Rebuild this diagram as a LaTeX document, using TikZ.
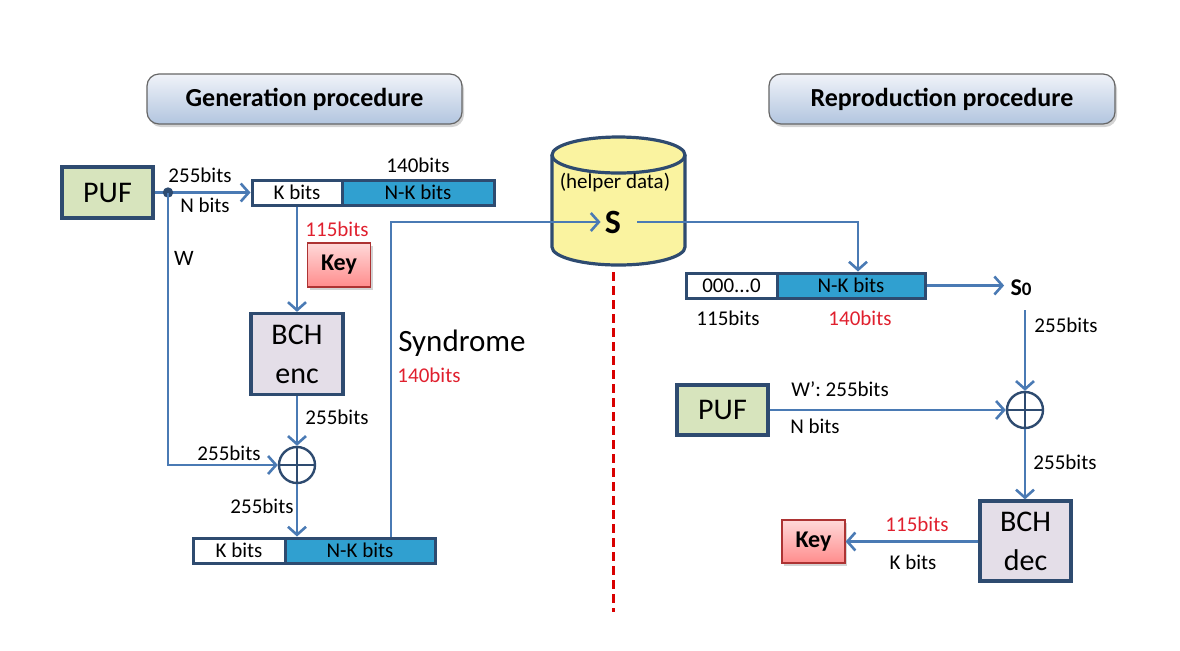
\documentclass[tikz,border=0pt]{standalone}
\usepackage{fontspec}
\setmainfont{Carlito}
\usetikzlibrary{arrows.meta,shadows}
\definecolor{lineblue}{HTML}{4A7AB4}
\definecolor{darkb}{HTML}{2E4B70}
\definecolor{cellblue}{HTML}{30A0D0}
\definecolor{pufgreen}{HTML}{D7E4BD}
\definecolor{bchfill}{HTML}{E4DEE8}
\definecolor{redtxt}{HTML}{E0202E}
\definecolor{cylfill}{HTML}{FAF3A0}
\definecolor{ttop}{HTML}{F0F3F9}
\definecolor{tbot}{HTML}{B2C5DF}
\begin{document}
\begin{tikzpicture}[x=0.5pt,y=-0.5pt,
  conn/.style={draw=lineblue, line width=1.3pt, -{Straight Barb[length=4pt,width=9pt]}},
  plain/.style={draw=lineblue, line width=1.3pt},
  lbl/.style={font=\fontsize{10.5}{12}\selectfont, inner sep=0pt},
  redlbl/.style={lbl, text=redtxt},
  titlebox/.style={draw=gray!80!black, line width=0.6pt, rounded corners=6pt, top color=ttop, bottom color=tbot, drop shadow={shadow xshift=1pt, shadow yshift=-1.5pt, opacity=0.35}, minimum width=157.5pt, minimum height=25pt, font=\bfseries\fontsize{13}{15}\selectfont},
  bigbox/.style={draw=darkb, line width=1.6pt, font=\fontsize{15}{17}\selectfont, inner sep=0pt, align=center},
  pufbox/.style={bigbox, fill=pufgreen, minimum width=45.5pt, minimum height=25.5pt},
  bchbox/.style={bigbox, fill=bchfill, minimum width=46pt, minimum height=40.5pt},
  keybox/.style={draw=red!60!black!80, line width=0.6pt, top color=red!15, bottom color=red!45, drop shadow={shadow xshift=1pt, shadow yshift=-1.5pt, opacity=0.35}, minimum width=31.5pt, minimum height=21pt, font=\bfseries\fontsize{12}{14}\selectfont},
  wcell/.style={draw=darkb, line width=1.5pt, fill=white, minimum height=12.5pt, inner sep=0pt, font=\fontsize{10.5}{12}\selectfont},
  bcell/.style={wcell, fill=cellblue},
  xorc/.style={circle, draw=darkb, line width=1.2pt, minimum size=18pt, inner sep=0pt, path picture={\draw[darkb,line width=1.2pt] (path picture bounding box.north) -- (path picture bounding box.south) (path picture bounding box.west) -- (path picture bounding box.east);}}
]
\useasboundingbox (0,0) rectangle (1180,650);

% titles
\node[titlebox] (tgen) at (304.5,99) {Generation procedure};
\node[titlebox, minimum width=173pt] (trep) at (942,99) {Reproduction procedure};

% ---------- generation ----------
\node[pufbox] (puf1) at (107.5,192.5) {PUF};
\node[wcell, minimum width=45pt] (k1) at (297,192.5) {K bits};
\node[bcell, minimum width=76pt] (nk1) at (418,192.5) {N-K bits};
\node[keybox, minimum height=22pt] (key1) at (339,265) {Key};
\node[bchbox] (enc) at (297,354) {BCH\\[2.5pt]enc};
\node[xorc] (xor1) at (297,465) {};
\node[wcell, minimum width=46pt] (k2) at (239,550.5) {K bits};
\node[bcell, minimum width=75pt] (nk2) at (360,550.5) {N-K bits};

\coordinate (dot) at (168,192.5);
\draw[plain] (puf1.east) -- (dot);
\draw[conn] (dot) -- (k1.west);
\fill[darkb] (dot) circle[radius=2.6pt];
\draw[conn] (k1.south) -- (enc.north);
\draw[conn] (dot) |- (xor1.west);
\draw[conn] (enc.south) -- (xor1.north);
\draw[conn] (xor1.south) -- (k2.north -| xor1.south);

\node[lbl] (l1) at (200,175) {255bits};
\node[lbl] (l2) at (205,205) {N bits};
\node[lbl] (l3) at (418,165) {140bits};
\node[redlbl] (l4) at (337,229) {115bits};
\node[lbl, font=\fontsize{11}{13}\selectfont] (l5) at (184,258) {W};
\node[lbl] (l6) at (337,417) {255bits};
\node[lbl] (l7) at (229,453) {255bits};
\node[lbl] (l8) at (262,506) {255bits};
\node[lbl, font=\fontsize{15.5}{17}\selectfont] (syn) at (462,343) {Syndrome};
\node[redlbl] (l9) at (429,375) {140bits};

% ---------- helper data cylinder ----------
\fill[cylfill] (552,155) -- (552,247) arc[start angle=180,end angle=360,x radius=33.25pt,y radius=9pt] -- (685,155) arc[start angle=0,end angle=180,x radius=33.25pt,y radius=9pt] -- cycle;
\draw[darkb, line width=1.6pt] (552,155) -- (552,247) arc[start angle=180,end angle=360,x radius=33.25pt,y radius=9pt] -- (685,155);
\draw[darkb, line width=1.6pt] (618.5,155) ellipse[x radius=33.25pt, y radius=9pt];
\node[lbl] (hd) at (615,183) {(helper data)};
\node[font=\bfseries\fontsize{17}{19}\selectfont, inner sep=2pt] (S) at (613,222) {S};

\draw[conn] ([xshift=15.5pt]nk2.north) |- (S.west);

% dashed divider
\draw[draw=red!85!black, line width=1.5pt, dash pattern=on 4.5pt off 2.5pt] (613,272) -- (613,612);

% ---------- reproduction ----------
\node[wcell, minimum width=45.5pt] (z) at (731.5,285.5) {000...0};
\node[bcell, minimum width=74pt] (nk3) at (851,285.5) {N-K bits};
\node[lbl] (l10) at (728,318) {115bits};
\node[redlbl] (l11) at (860,318) {140bits};
\draw[conn] ([xshift=6pt]S.east) -| ([xshift=3.5pt]nk3.north);

\node[inner sep=1pt, font=\bfseries\fontsize{12}{14}\selectfont] (S0) at (1021,288) {S{\fontsize{9.5}{11}\selectfont 0}};
\draw[conn] (nk3.east) -- ([xshift=-2pt]nk3.east -| S0.west);

\node[xorc] (xor2) at (1025,410) {};
\node[pufbox, minimum height=25pt] (puf2) at (722.5,410) {PUF};
\node[bchbox, minimum width=45.5pt, minimum height=40pt] (dec) at (1025.5,541) {BCH\\[2.5pt]dec};
\node[keybox, minimum height=21.5pt] (key2) at (813.5,541.5) {Key};

\draw[conn] ([yshift=-6pt]S0.south -| xor2.north) -- (xor2.north);
\draw[conn] (puf2.east) -- (xor2.west);
\draw[conn] (xor2.south) -- (dec.north -| xor2.south);
\draw[conn] (dec.west |- key2.east) -- (key2.east);

\node[lbl] (l12) at (1066,325) {255bits};
\node[lbl] (l13) at (840,389) {W’: 255bits};
\node[lbl] (l14) at (815,426) {N bits};
\node[lbl] (l15) at (1065,462) {255bits};
\node[redlbl] (l16) at (917,524) {115bits};
\node[lbl] (l17) at (913,562) {K bits};
\end{tikzpicture}
\end{document}
